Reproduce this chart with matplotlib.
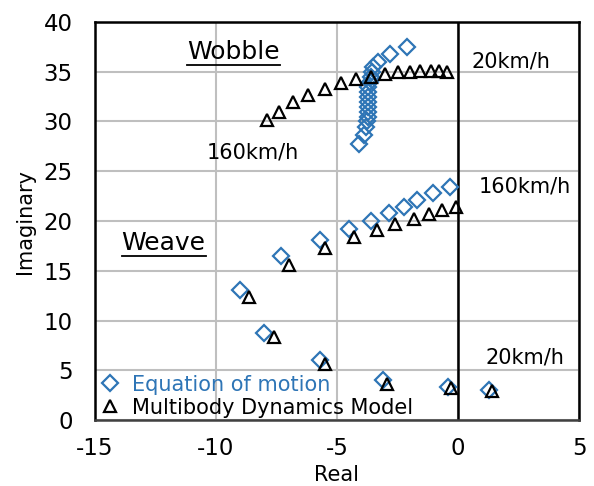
import matplotlib.pyplot as plt
from matplotlib.lines import Line2D

plt.rcParams['axes.unicode_minus'] = False

# wobble mode, speed decreasing from 20km/h to 160km/h
wobble_eom_real = [-2.1, -2.8, -3.3, -3.5, -3.55, -3.6, -3.65, -3.7, -3.7, -3.7, -3.7,
                   -3.7, -3.7, -3.72, -3.75, -3.8, -3.9, -4.1]
wobble_eom_imag = [37.5, 36.8, 36.0, 35.5, 35.0, 34.5, 34.0, 33.5, 33.0, 32.5, 32.0,
                   31.5, 31.0, 30.5, 30.0, 29.4, 28.6, 27.7]
wobble_mbd_real = [-0.45, -0.8, -1.1, -1.55, -2.0, -2.5, -3.0, -3.6, -4.2, -4.85,
                   -5.5, -6.2, -6.8, -7.4, -7.9]
wobble_mbd_imag = [35.0, 35.1, 35.1, 35.1, 35.0, 35.0, 34.8, 34.5, 34.3, 33.9,
                   33.3, 32.7, 32.0, 31.0, 30.2]

# weave mode
weave_eom_real = [1.3, -0.4, -3.1, -5.7, -8.0, -9.0, -7.3, -5.7, -4.5, -3.6,
                  -2.85, -2.25, -1.7, -1.05, -0.35]
weave_eom_imag = [3.0, 3.35, 4.0, 6.0, 8.7, 13.1, 16.5, 18.1, 19.2, 20.0,
                  20.8, 21.4, 22.1, 22.8, 23.4]
weave_mbd_real = [1.4, -0.3, -2.95, -5.5, -7.6, -8.65, -7.0, -5.5, -4.3, -3.35,
                  -2.6, -1.8, -1.2, -0.65, -0.1]
weave_mbd_imag = [2.9, 3.25, 3.6, 5.6, 8.3, 12.4, 15.6, 17.3, 18.4, 19.1,
                  19.7, 20.2, 20.7, 21.1, 21.4]

blue = '#2E75B6'

fig = plt.figure(figsize=(5.94, 4.86), dpi=100)
ax = fig.add_axes([95 / 594, 66 / 486, 484 / 594, 398 / 486])

ax.set_xlim(-15, 5)
ax.set_ylim(0, 40)
ax.set_xticks(range(-15, 6, 5))
ax.set_yticks(range(0, 41, 5))
ax.grid(True, color='#BFBFBF', linewidth=1.5)
ax.set_axisbelow(True)
ax.tick_params(length=0, labelsize=16.5)
ax.tick_params(axis='x', pad=12)
ax.tick_params(axis='y', pad=16)
ax.axvline(0, color='black', linewidth=1.8, zorder=1.5)

for side in ['left', 'top', 'right']:
    ax.spines[side].set_color('black')
    ax.spines[side].set_linewidth(1.8)
ax.spines['bottom'].set_color('#404040')
ax.spines['bottom'].set_linewidth(1.8)

mk = dict(linestyle='none', markersize=9, markerfacecolor='none', markeredgewidth=1.6)
ax.plot(wobble_eom_real, wobble_eom_imag, marker='D', color=blue, markersize=8,
        linestyle='none', markerfacecolor='none', markeredgewidth=1.6, zorder=3)
ax.plot(weave_eom_real, weave_eom_imag, marker='D', color=blue, markersize=8,
        linestyle='none', markerfacecolor='none', markeredgewidth=1.6, zorder=3)
ax.plot(wobble_mbd_real, wobble_mbd_imag, marker='^', color='black', zorder=4, **mk)
ax.plot(weave_mbd_real, weave_mbd_imag, marker='^', color='black', zorder=4, **mk)

ax.set_xlabel('Real', fontsize=15, labelpad=4)
ax.set_ylabel('Imaginary', fontsize=15, labelpad=6)

wob = ax.text(-11.2, 37.0, 'Wobble', fontsize=18, va='center', ha='left')
wea = ax.text(-13.9, 17.8, 'Weave', fontsize=18, va='center', ha='left')
ax.text(-10.4, 26.9, '160km/h', fontsize=15, va='center')
ax.text(0.55, 36.0, '20km/h', fontsize=15, va='center')
ax.text(0.85, 23.5, '160km/h', fontsize=15, va='center')
ax.text(1.15, 6.3, '20km/h', fontsize=15, va='center')

handles = [
    Line2D([], [], marker='D', color=blue, markersize=8, linestyle='none',
           markerfacecolor='none', markeredgewidth=1.6),
    Line2D([], [], marker='^', color='black', markersize=9, linestyle='none',
           markerfacecolor='none', markeredgewidth=1.6),
]
leg = ax.legend(handles, ['Equation of motion', 'Multibody Dynamics Model'],
                loc='lower left', bbox_to_anchor=(0.0, -0.01), frameon=False,
                fontsize=15, handlelength=0.8, handletextpad=0.7,
                labelspacing=0.15, borderaxespad=0.2, borderpad=0.1)
leg.get_texts()[0].set_color(blue)

# underline the mode labels
fig.canvas.draw()
renderer = fig.canvas.get_renderer()
inv = ax.transData.inverted()
for t in [wob, wea]:
    bb = t.get_window_extent(renderer)
    (x0, y0), (x1, _) = inv.transform([(bb.x0, bb.y0), (bb.x1, bb.y0)])
    ax.plot([x0, x1], [y0 - 0.1, y0 - 0.1], color='black', linewidth=1.3, zorder=5)

fig.savefig('out.png', dpi=100)
